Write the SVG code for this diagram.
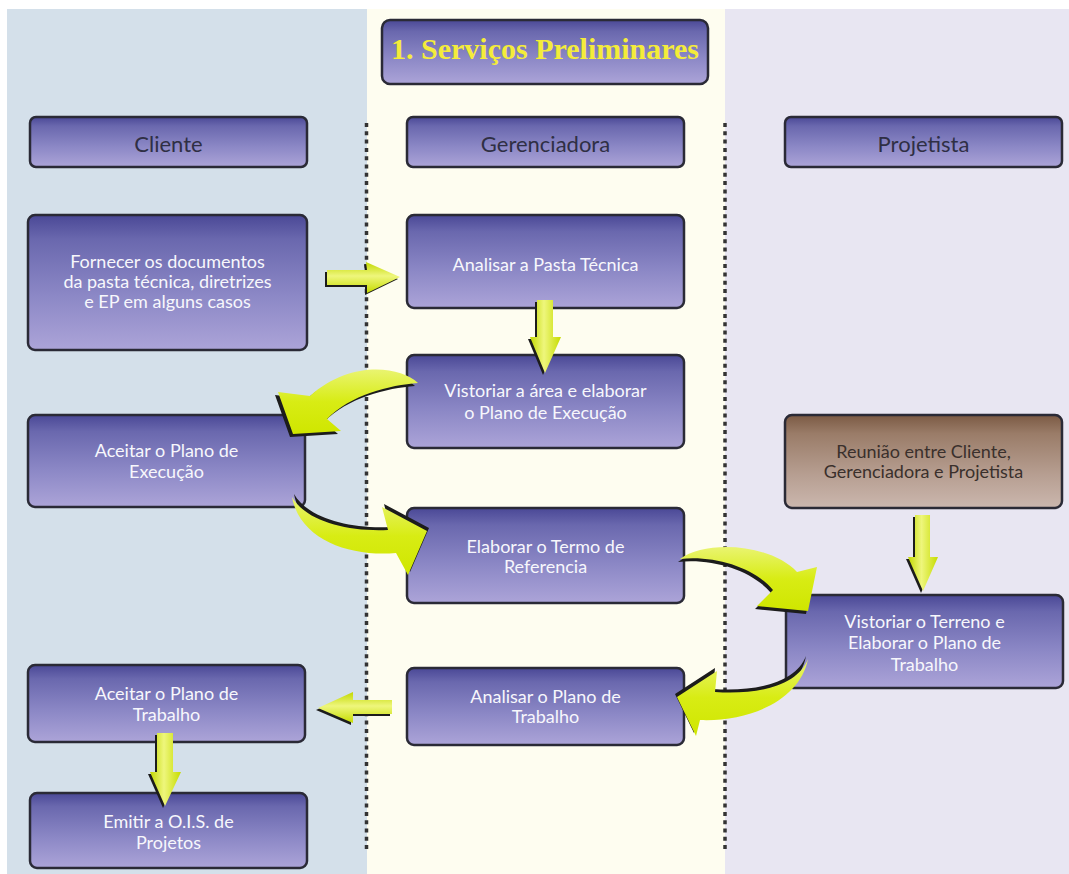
<svg xmlns="http://www.w3.org/2000/svg" width="1069" height="874" viewBox="0 0 1069 874">
<style>
.box{fill:url(#bg);stroke:#2a2a36;stroke-width:2.5}
.bbox{fill:url(#brg);stroke:#2a2a36;stroke-width:2.5}
.nt{font-family:Lato,"Open Sans",sans-serif;font-size:18px;fill:#f7f7fc;text-anchor:middle}
.dt{font-family:Lato,"Open Sans",sans-serif;font-size:18px;fill:#3a302c;text-anchor:middle}
.ht{font-family:Lato,"Open Sans",sans-serif;font-size:22px;fill:#2f2f44;text-anchor:middle}
.tt{font-family:"Liberation Serif","Times New Roman",serif;font-size:30px;font-weight:bold;fill:#f4ec3a;text-anchor:middle}
.sep{stroke:#333;stroke-width:3.5;stroke-dasharray:4 4.3;fill:none}
.sh{fill:#1c1c1c}
.ca{fill:url(#cg)}
.ha{fill:url(#hg)}
.va{fill:url(#vg)}
</style>
<defs>
<linearGradient id="bg" x1="0" y1="0" x2="0" y2="1">
<stop offset="0" stop-color="#4a4896"/>
<stop offset="0.18" stop-color="#6a68ae"/>
<stop offset="0.6" stop-color="#8c88c6"/>
<stop offset="1" stop-color="#aca4d8"/>
</linearGradient>
<linearGradient id="brg" x1="0" y1="0" x2="0" y2="1">
<stop offset="0" stop-color="#7b5a44"/>
<stop offset="0.2" stop-color="#9a7c68"/>
<stop offset="0.65" stop-color="#b79f92"/>
<stop offset="1" stop-color="#cbb7ae"/>
</linearGradient>
<linearGradient id="cg" x1="0" y1="0" x2="0" y2="1">
<stop offset="0" stop-color="#e9f470"/>
<stop offset="0.5" stop-color="#d8ec14"/>
<stop offset="1" stop-color="#cfe600"/>
</linearGradient>
<linearGradient id="hg" x1="0" y1="0" x2="0" y2="1">
<stop offset="0" stop-color="#c2d800"/>
<stop offset="0.45" stop-color="#eef67c"/>
<stop offset="1" stop-color="#c6dc00"/>
</linearGradient>
<linearGradient id="vg" x1="0" y1="0" x2="1" y2="0">
<stop offset="0" stop-color="#c2d800"/>
<stop offset="0.45" stop-color="#eef67c"/>
<stop offset="1" stop-color="#c6dc00"/>
</linearGradient>
</defs>

<g id="background">
<rect x="0" y="0" width="1069" height="874" fill="#ffffff"/>
<rect x="7" y="9" width="360" height="865" fill="#d4e0ea"/>
<rect x="367" y="9" width="358" height="865" fill="#fefdf0"/>
<rect x="725" y="9" width="344" height="865" fill="#e8e6f2"/>
<line class="sep" x1="366.5" y1="123" x2="366.5" y2="850"/>
<line class="sep" x1="725" y1="123" x2="725" y2="850"/>
</g>

<g id="title">
<rect class="box" x="382" y="20" width="326" height="64" rx="8"/>
<text class="tt" x="545" y="59">1. Serviços Preliminares</text>
</g>

<g id="lane-cliente">
<rect class="box" x="30" y="117" width="277" height="50" rx="6"/>
<text class="ht" x="168.5" y="152">Cliente</text>
</g>
<g id="lane-gerenciadora">
<rect class="box" x="407" y="117" width="277" height="50" rx="6"/>
<text class="ht" x="545.5" y="152">Gerenciadora</text>
</g>
<g id="lane-projetista">
<rect class="box" x="785" y="117" width="277" height="50" rx="6"/>
<text class="ht" x="923.5" y="152">Projetista</text>
</g>

<g id="n-fornecer">
<rect class="box" x="28" y="215" width="279" height="135" rx="7"/>
<text class="nt" x="167.5" y="268">Fornecer os documentos</text>
<text class="nt" x="167.5" y="288">da pasta técnica, diretrizes</text>
<text class="nt" x="167.5" y="308">e EP em alguns casos</text>
</g>
<g id="n-analisar-pasta">
<rect class="box" x="407" y="215" width="277" height="93" rx="7"/>
<text class="nt" x="545.5" y="271">Analisar a Pasta Técnica</text>
</g>
<g id="n-vistoriar-area">
<rect class="box" x="407" y="355" width="277" height="93" rx="7"/>
<text class="nt" x="545.5" y="397">Vistoriar a área e elaborar</text>
<text class="nt" x="545.5" y="419">o Plano de Execução</text>
</g>
<g id="n-aceitar-exec">
<rect class="box" x="28" y="415" width="277" height="92" rx="7"/>
<text class="nt" x="166.5" y="457">Aceitar o Plano de</text>
<text class="nt" x="166.5" y="478">Execução</text>
</g>
<g id="n-reuniao">
<rect class="bbox" x="785" y="415" width="277" height="93" rx="7"/>
<text class="dt" x="923.5" y="458">Reunião entre Cliente,</text>
<text class="dt" x="923.5" y="478">Gerenciadora e Projetista</text>
</g>
<g id="n-elaborar-termo">
<rect class="box" x="407" y="508" width="277" height="95" rx="7"/>
<text class="nt" x="545.5" y="553">Elaborar o Termo de</text>
<text class="nt" x="545.5" y="573">Referencia</text>
</g>
<g id="n-vistoriar-terreno">
<rect class="box" x="786" y="595" width="277" height="93" rx="7"/>
<text class="nt" x="924.5" y="628">Vistoriar o Terreno e</text>
<text class="nt" x="924.5" y="649">Elaborar o Plano de</text>
<text class="nt" x="924.5" y="671">Trabalho</text>
</g>
<g id="n-analisar-plano">
<rect class="box" x="407" y="668" width="277" height="77" rx="7"/>
<text class="nt" x="545.5" y="703">Analisar o Plano de</text>
<text class="nt" x="545.5" y="723">Trabalho</text>
</g>
<g id="n-aceitar-trabalho">
<rect class="box" x="28" y="665" width="277" height="77" rx="7"/>
<text class="nt" x="166.5" y="700">Aceitar o Plano de</text>
<text class="nt" x="166.5" y="721">Trabalho</text>
</g>
<g id="n-emitir">
<rect class="box" x="30" y="793" width="277" height="75" rx="7"/>
<text class="nt" x="168.5" y="828">Emitir a O.I.S. de</text>
<text class="nt" x="168.5" y="849">Projetos</text>
</g>

<g id="connectors">
<path class="sh" transform="translate(-2,2)" d="M327,270 L367,270 L366,262 L400,277 L367,293 L367,285 L327,285 Z"/>
<path class="ha" d="M327,270 L367,270 L366,262 L400,277 L367,293 L367,285 L327,285 Z"/>

<path class="sh" transform="translate(-2,2)" d="M537,300 L553,300 L553,337 L561,337 L545,373 L530,337 L537,337 Z"/>
<path class="va" d="M537,300 L553,300 L553,337 L561,337 L545,373 L530,337 L537,337 Z"/>

<path class="sh" transform="translate(-3,3)" d="M418,383 C400,366 350,360 310,396 L278,392 L293,434 L341,431 L327,419 C350,395 390,385 418,383 Z"/>
<path class="ca" d="M418,383 C400,366 350,360 310,396 L278,392 L293,434 L341,431 L327,419 C350,395 390,385 418,383 Z"/>

<path class="sh" transform="translate(2,-3)" d="M292,497 C305,520 345,532 388,530 L382,507 L427,531 L408,575 L396,553 C350,557 300,540 292,497 Z"/>
<path class="ca" d="M292,497 C305,520 345,532 388,530 L382,507 L427,531 L408,575 L396,553 C350,557 300,540 292,497 Z"/>

<path class="sh" transform="translate(-2,3)" d="M680,559 C705,540 770,543 797,572 L817,567 L808,611 L757,606 L773,590 C755,568 715,555 680,559 Z"/>
<path class="ca" d="M680,559 C705,540 770,543 797,572 L817,567 L808,611 L757,606 L773,590 C755,568 715,555 680,559 Z"/>

<path class="sh" transform="translate(-2,2)" d="M915,515 L930,515 L930,557 L938,557 L923,591 L908,557 L915,557 Z"/>
<path class="va" d="M915,515 L930,515 L930,557 L938,557 L923,591 L908,557 L915,557 Z"/>

<path class="sh" transform="translate(-2,-3)" d="M808,659 C800,700 750,722 700,720 L696,736 L677,697 L717,671 L715,692 C760,695 798,685 808,659 Z"/>
<path class="ca" d="M808,659 C800,700 750,722 700,720 L696,736 L677,697 L717,671 L715,692 C760,695 798,685 808,659 Z"/>

<path class="sh" transform="translate(-2,2)" d="M392,700 L353,700 L353,692 L318,708 L353,723 L353,714 L392,714 Z"/>
<path class="ha" d="M392,700 L353,700 L353,692 L318,708 L353,723 L353,714 L392,714 Z"/>

<path class="sh" transform="translate(-2,2)" d="M157,733 L173,733 L173,772 L181,772 L165,806 L150,772 L157,772 Z"/>
<path class="va" d="M157,733 L173,733 L173,772 L181,772 L165,806 L150,772 L157,772 Z"/>
</g>
</svg>
